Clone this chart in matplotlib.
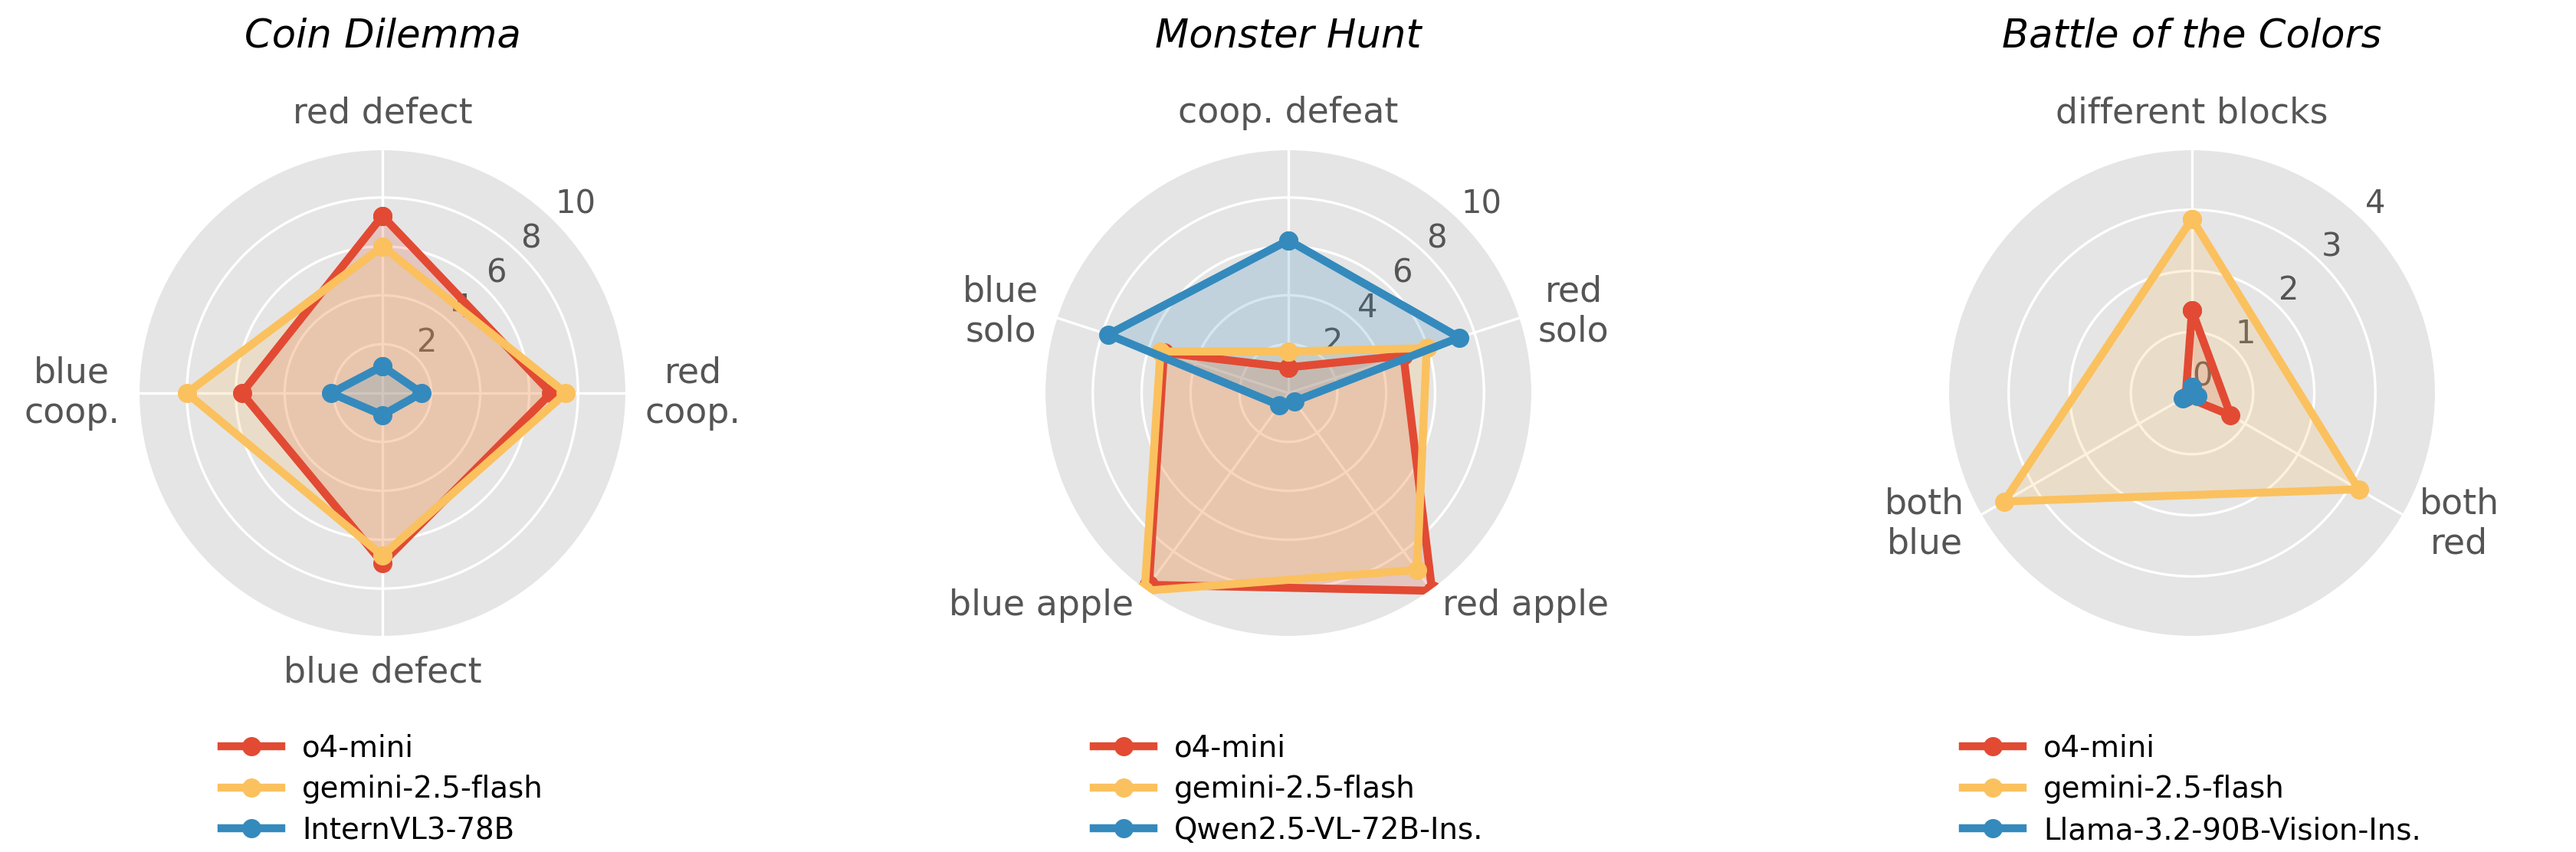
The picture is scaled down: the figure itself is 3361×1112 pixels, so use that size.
import numpy as np
import matplotlib
matplotlib.use("Agg")
import matplotlib.pyplot as plt

plt.style.use("ggplot")

# ---- data ----
coin_cats = ["red defect", "red\ncoop.", "blue defect", "blue\ncoop."]
coin_models = ["o4-mini", "gemini-2.5-flash", "InternVL3-78B"]
coin_o4 = [7.25, 6.9, 6.95, 5.75]
coin_gemini = [6.0, 7.5, 6.65, 8.0]
coin_intern = [1.1, 1.6, 0.9, 2.1]

hunt_cats = ["coop. defeat", "red\nsolo", "red apple", "blue apple", "blue\nsolo"]
hunt_models = ["o4-mini", "gemini-2.5-flash", "Qwen2.5-VL-72B-Ins."]
hunt_o4 = [1.05, 4.95, 10.0, 9.7, 5.35]
hunt_gemini = [1.7, 5.95, 8.95, 10.0, 5.5]
hunt_qwen = [6.25, 7.35, 0.42, 0.62, 7.75]

colors_cats = ["different blocks", "both\nred", "both\nblue"]
colors_models = ["o4-mini", "gemini-2.5-flash", "Llama-3.2-90B-Vision-Ins."]
colors_o4 = [1.35, 0.73, 0.12]
colors_gemini = [2.85, 3.15, 3.55]
colors_llama = [0.1, 0.1, 0.18]

model_colors = ["#E24A33", "#FBC15E", "#348ABD"]

panels = [
    ("Coin Dilemma", coin_cats, coin_models, [coin_o4, coin_gemini, coin_intern], 10, [2, 4, 6, 8, 10]),
    ("Monster Hunt", hunt_cats, hunt_models, [hunt_o4, hunt_gemini, hunt_qwen], 10, [2, 4, 6, 8, 10]),
    ("Battle of the Colors", colors_cats, colors_models, [colors_o4, colors_gemini, colors_llama], 4, [0, 1, 2, 3, 4]),
]

W, H = 3361, 1112
fig = plt.figure(figsize=(W / 300, H / 300), dpi=300)

centers_x = [499, 1681, 2860]
center_y = 513
radius = 319

for (title, cats, models, series, rmax, rticks), cx in zip(panels, centers_x):
    left = (cx - radius) / W
    bottom = (H - center_y - radius) / H
    ax = fig.add_axes([left, bottom, 2 * radius / W, 2 * radius / H], projection="polar")
    ax.set_theta_offset(np.pi / 2)
    ax.set_theta_direction(-1)

    n = len(cats)
    angles = np.linspace(0, 2 * np.pi, n, endpoint=False)
    closed = np.concatenate([angles, angles[:1]])

    for vals, name, col in zip(series, models, model_colors):
        v = np.concatenate([vals, vals[:1]])
        ax.plot(closed, v, color=col, lw=2.5, marker="o", ms=5, label=name)
        ax.fill(closed, v, color=col, alpha=0.2)

    ax.set_xticks(angles)
    ax.set_xticklabels(cats, fontsize=11)
    ax.tick_params(axis="x", pad=-4.8)
    # push each category label away from the centre
    for lab, a in zip(ax.get_xticklabels(), angles):
        lab.set_multialignment("center")
        sx, sy = np.sin(a), np.cos(a)
        if abs(sx) < 1e-6:
            lab.set_horizontalalignment("center")
            lab.set_verticalalignment("bottom" if sy > 0 else "top")
        else:
            lab.set_horizontalalignment("left" if sx > 0 else "right")
            lab.set_verticalalignment("center")

    # keep the zero label visible on the last panel
    ax.set_ylim(-0.001 if rticks[0] == 0 else 0, rmax)
    ax.set_yticks(rticks)
    ax.set_yticklabels([str(t) for t in rticks], fontsize=10)
    ax.set_rlabel_position(45)
    ax.set_title(title, fontstyle="italic", fontsize=12.3, y=1.0, pad=31.8)

    ax.legend(loc="upper center", bbox_to_anchor=(0.5, -0.172), frameon=False,
              fontsize=9.3, labelspacing=0.41, handletextpad=0.7, borderaxespad=0)

fig.savefig("out.png", dpi=300)
